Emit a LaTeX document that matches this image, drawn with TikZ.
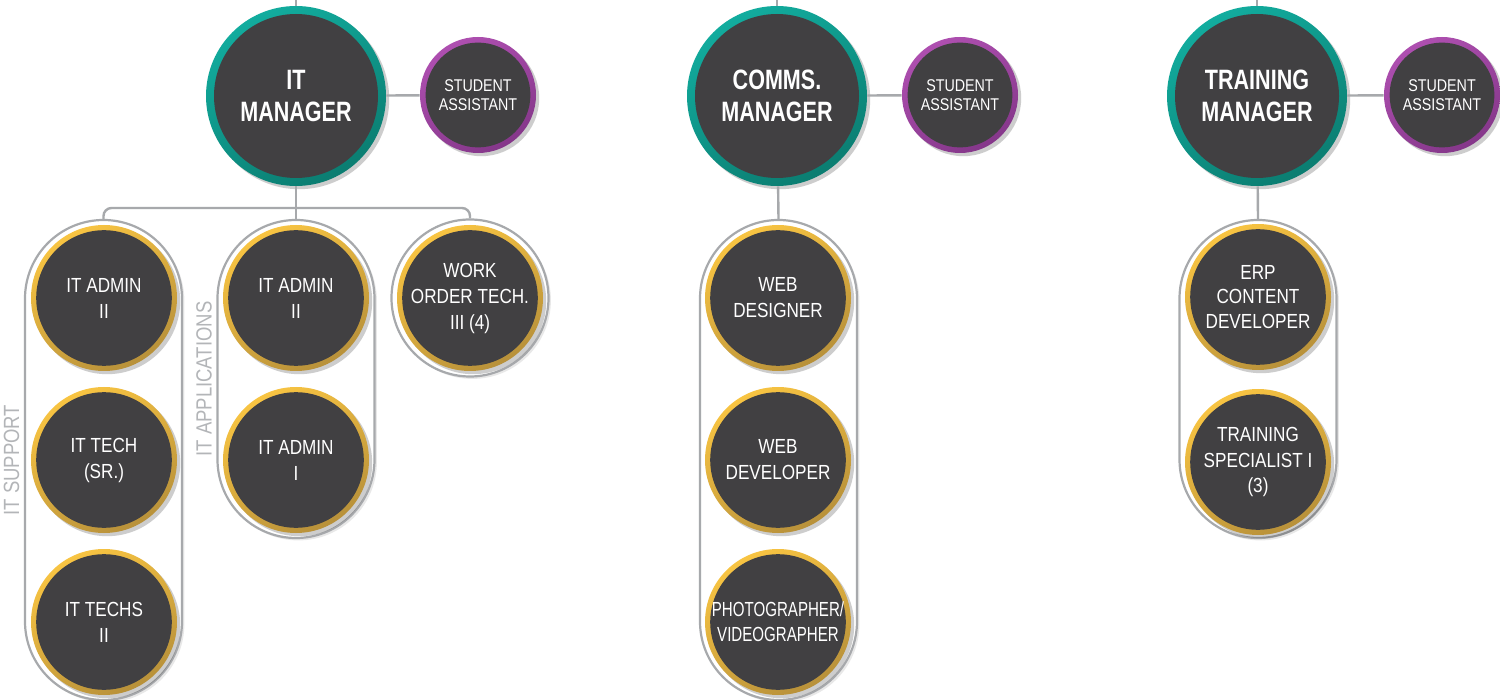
\documentclass[tikz,border=0pt]{standalone}
\usepackage{fontspec}
\setmainfont{Liberation Sans}
\newfontfamily\rfont[FakeStretch=0.84]{Liberation Sans}
\newfontfamily\bfontfam[FakeStretch=0.77]{Liberation Sans Bold}
\newfontfamily\nfont[FakeStretch=0.74]{Liberation Sans}
\usetikzlibrary{shadows}
\definecolor{darkfill}{HTML}{414042}
\definecolor{goldA}{HTML}{F8C442}
\definecolor{goldB}{HTML}{B8913A}
\definecolor{tealA}{HTML}{12AC9E}
\definecolor{tealB}{HTML}{0B7D71}
\definecolor{purpA}{HTML}{AE4FB0}
\definecolor{purpB}{HTML}{85378A}
\definecolor{lineg}{HTML}{A7A9AC}
\definecolor{labelg}{HTML}{B3B5B8}
\tikzset{
  disc/.style={circle, inner sep=0pt, align=center, text=white,
    drop shadow={shadow xshift=1.6pt, shadow yshift=-1.6pt, opacity=0.28, fill=black!70}},
  staff/.style={disc, minimum size=73pt, top color=goldA, bottom color=goldB, shading angle=30,
    path picture={\fill[darkfill] (path picture bounding box.center) circle[radius=33.9pt];},
    font=\rfont\fontsize{10.2}{13}\selectfont},
  mgr/.style={disc, minimum size=90pt, top color=tealA, bottom color=tealB, shading angle=30,
    path picture={\fill[darkfill] (path picture bounding box.center) circle[radius=41pt];},
    font=\bfontfam\fontsize{14}{15.8}\selectfont},
  asst/.style={disc, minimum size=58pt, top color=purpA, bottom color=purpB, shading angle=30,
    path picture={\fill[darkfill] (path picture bounding box.center) circle[radius=26.2pt];},
    font=\rfont\fontsize{8.5}{9.7}\selectfont},
  pill/.style={rectangle, rounded corners=39.25pt, minimum width=78.5pt, inner sep=0pt,
    draw=lineg, line width=1.1pt, fill=white,
    drop shadow={shadow xshift=1.2pt, shadow yshift=-1.2pt, opacity=0.15, fill=black!60}},
  link/.style={draw=lineg, line width=1.2pt},
  grplabel/.style={rotate=90, inner sep=0pt, text=labelg, font=\rfont\fontsize{11}{13}\selectfont}
}
\begin{document}
\begin{tikzpicture}[x=0.5pt,y=-0.5pt]
\clip (0,0) rectangle (1500,700);
\fill[white] (0,0) rectangle (1500,700);

% group pills
\node[pill, minimum height=240pt] (pSup) at (103.5,460) {};
\node[pill, minimum height=159pt] (pApp) at (296,379) {};
\node[pill, minimum height=78.5pt] (pWO) at (470,298) {};
\node[pill, minimum height=240pt] (pCom) at (778.5,460) {};
\node[pill, minimum height=159pt] (pTr) at (1258,379) {};

% group labels
\node[grplabel] (lSup) at (11.5,460) {IT SUPPORT};
\node[grplabel] (lApp) at (204,379) {IT APPLICATIONS};

% managers
\node[mgr] (itm) at (296,96) {IT\\MANAGER};
\node[mgr] (cm) at (777,96) {COMMS.\\MANAGER};
\node[mgr] (tm) at (1257,96) {TRAINING\\MANAGER};

% student assistants
\node[asst] (itsa) at (478,95) {STUDENT\\ASSISTANT};
\node[asst] (csa) at (960,95) {STUDENT\\ASSISTANT};
\node[asst] (tsa) at (1442,95) {STUDENT\\ASSISTANT};

% IT staff
\node[staff] (s1) at (104,298) {IT ADMIN\\II};
\node[staff] (s2) at (104,460) {IT TECH\\(SR.)};
\node[staff] (s3) at (104,622) {IT TECHS\\II};
\node[staff] (a1) at (296,298) {IT ADMIN\\II};
\node[staff] (a2) at (296,460) {IT ADMIN\\I};
\node[staff] (w1) at (470,298) {WORK\\ORDER TECH.\\III (4)};

% comms staff
\node[staff] (c1) at (778,298) {WEB\\DESIGNER};
\node[staff] (c2) at (778,460) {WEB\\DEVELOPER};
\node[staff, font=\nfont\fontsize{10.2}{12.5}\selectfont] (c3) at (778,622) {PHOTOGRAPHER/\\VIDEOGRAPHER};

% training staff
\node[staff, font=\rfont\fontsize{10.2}{12.3}\selectfont] (t1) at (1258,297) {ERP\\CONTENT\\DEVELOPER};
\node[staff, font=\rfont\fontsize{10.2}{12.6}\selectfont] (t2) at (1258,462) {TRAINING\\SPECIALIST I\\(3)};

% connectors
\coordinate (top1) at (296,0);
\coordinate (top2) at (777,0);
\coordinate (top3) at (1257,0);
\coordinate (bus) at (296,208);
\draw[link] (top1) -- (itm);
\draw[link] (top2) -- (cm);
\draw[link] (top3) -- (tm);
\draw[link] (itm) -- (itsa);
\draw[link] (cm) -- (csa);
\draw[link] (tm) -- (tsa);
\draw[link] (itm) -- (pApp.north);
\draw[link, rounded corners=4pt] (pSup.north) |- (bus) -| (pWO.north);
\draw[link] (cm) -- (pCom.north);
\draw[link] (tm) -- (pTr.north);
\end{tikzpicture}
\end{document}
